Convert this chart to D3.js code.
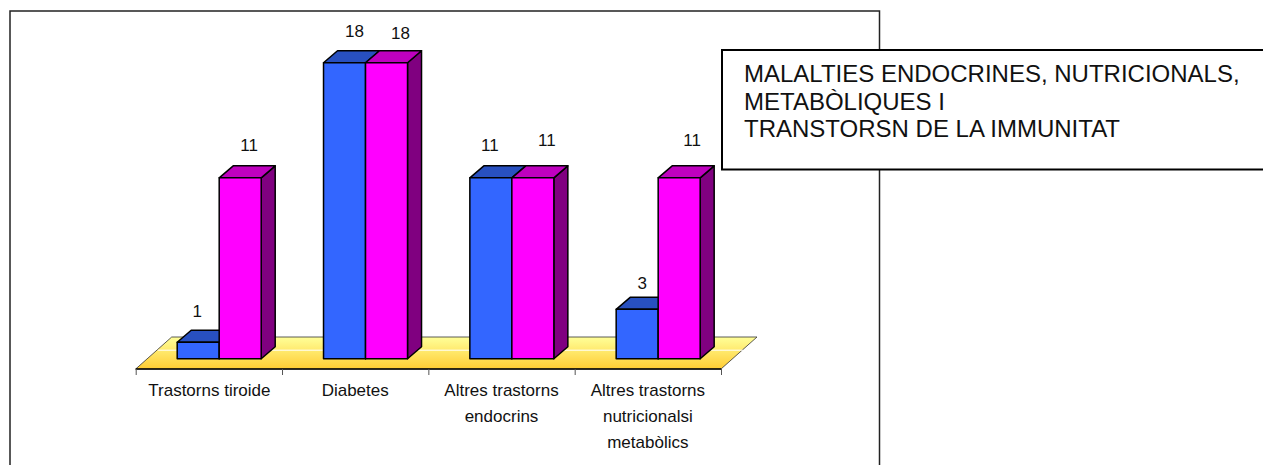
<!DOCTYPE html>
<html lang="ca">
<head>
<meta charset="UTF-8">
<title>Malalties endocrines</title>
<script src="https://cdn.jsdelivr.net/npm/d3@7"></script>
<style>
    html, body { margin: 0; padding: 0; background: #fff; overflow: hidden; }
    text { font-family: "Liberation Sans", Arial, sans-serif; fill: #111; }
</style>
</head>
<body>
<div id="chart"></div>
<script>
    const categories = ["Trastorns tiroide", "Diabetes", "Altres trastorns endocrins", "Altres trastorns nutricionalsi metabòlics"];
    const categoryLines = [["Trastorns tiroide"], ["Diabetes"], ["Altres trastorns", "endocrins"], ["Altres trastorns", "nutricionalsi", "metabòlics"]];
    const seriesNames = ["A", "B"];
    const seriesA = [1, 18, 11, 3];
    const seriesB = [11, 18, 11, 11];
    const titleLines = ["MALALTIES ENDOCRINES, NUTRICIONALS,", "METABÒLIQUES I", "TRANSTORSN DE LA IMMUNITAT"];

    const width = 1263, height = 465;
    const depth = {x: 14, y: -12};
    const floorDepth = {x: 36, y: -32};

    const svg = d3.select("#chart").append("svg")
        .attr("width", width)
        .attr("height", height)
        .style("display", "block");

    const defs = svg.append("defs");
    const grad = defs.append("linearGradient").attr("id", "floor").attr("x1", 0).attr("x2", 0).attr("y1", 0).attr("y2", 1);
    grad.append("stop").attr("offset", 0).attr("stop-color", "#ffff99");
    grad.append("stop").attr("offset", 1).attr("stop-color", "#ffcc33");

    // outer frame, runs off the bottom of the page
    svg.append("rect")
        .attr("x", 10).attr("y", 11)
        .attr("width", 869.5).attr("height", 480)
        .attr("fill", "#fff").attr("stroke", "#222").attr("stroke-width", 1.5);

    const x0 = d3.scaleBand().domain(categories).range([135.7, 721]);
    const x1 = d3.scaleBand().domain(seriesNames).range([41.5, 125.5]);
    const y = d3.scaleLinear().domain([0, 18]).range([358.7, 62.7]);
    const floorY = 369;

    // floor
    const floorPts = [
        [x0.range()[0], floorY],
        [x0.range()[1], floorY],
        [x0.range()[1] + floorDepth.x, floorY + floorDepth.y],
        [x0.range()[0] + floorDepth.x, floorY + floorDepth.y]
    ];
    svg.append("path")
        .attr("d", d3.line()(floorPts) + "Z")
        .attr("fill", "url(#floor)")
        .attr("stroke", "#333")
        .attr("stroke-width", 0.8);
    // zero gridline behind the bars
    svg.append("line")
        .attr("x1", x0.range()[0] + 22).attr("x2", x0.range()[1] + 22)
        .attr("y1", y(0) - 8.5).attr("y2", y(0) - 8.5)
        .attr("stroke", "#fff").attr("stroke-width", 1);
    svg.append("line")
        .attr("x1", x0.range()[0]).attr("x2", x0.range()[1])
        .attr("y1", floorY).attr("y2", floorY)
        .attr("stroke", "#000").attr("stroke-width", 1.5);

    // ticks and labels through d3 axis
    const ticks = [...categories.map(c => x0(c)), x0.range()[1]];
    const axis = d3.axisBottom(d3.scaleLinear().domain([0, width]).range([0, width]))
        .tickValues(ticks).tickSize(6).tickFormat("");
    svg.append("g")
        .attr("transform", `translate(0,${floorY})`)
        .call(axis)
        .call(g => g.select(".domain").remove())
        .call(g => g.selectAll("line").attr("stroke", "#555"));

    categories.forEach((c, i) => {
        const t = svg.append("text")
            .attr("text-anchor", "middle")
            .attr("font-size", 17)
            .attr("transform", `translate(${x0(c) + x0.bandwidth() / 2 + (i === 0 ? 0.5 : 0)},0)`);
        categoryLines[i].forEach((line, k) => {
            t.append("tspan").attr("x", 0).attr("y", 396 + k * 26).text(line);
        });
    });

    // 3d bars, blue then pink so the front faces overlap
    const styles = {
        A: {front: "#3366ff", top: "#2850c0", side: "#1f3f99"},
        B: {front: "#ff00ff", top: "#bf00bf", side: "#800080"}
    };
    const nudges = {A: [[-8, -17.5], [3, -18.5], [-8, -19], [-2, -12.5]], B: [[2, -19], [7, -16.5], [7, -24.5], [6, -24.5]]};

    const rows = categories.flatMap((c, i) => [
        {c, i, s: "A", v: seriesA[i]},
        {c, i, s: "B", v: seriesB[i]}
    ]);
    const barG = svg.append("g").attr("stroke", "#000").attr("stroke-width", 1.5).attr("stroke-linejoin", "round");
    const bars = barG.selectAll("g").data(rows).enter().append("g")
        .attr("transform", d => `translate(${x0(d.c) + x1(d.s)},0)`);
    const w = x1.bandwidth();
    bars.append("path")
        .attr("fill", d => styles[d.s].side)
        .attr("d", d => `M${w},${y(d.v)}l${depth.x},${depth.y}V${y(0) + depth.y}l${-depth.x},${-depth.y}Z`);
    bars.append("path")
        .attr("fill", d => styles[d.s].top)
        .attr("d", d => `M0,${y(d.v)}l${depth.x},${depth.y}h${w}l${-depth.x},${-depth.y}Z`);
    bars.append("rect")
        .attr("fill", d => styles[d.s].front)
        .attr("x", 0).attr("width", w)
        .attr("y", d => y(d.v))
        .attr("height", d => y(0) - y(d.v));

    // value labels
    svg.selectAll(".val").data(rows).enter().append("text")
        .attr("class", "val")
        .attr("text-anchor", "middle")
        .attr("dominant-baseline", "middle")
        .attr("font-size", 17)
        .attr("x", d => x0(d.c) + x1(d.s) + w / 2 + 7 + nudges[d.s][d.i][0])
        .attr("y", d => y(d.v) + depth.y + nudges[d.s][d.i][1])
        .text(d => d.v);

    // title box
    svg.append("rect")
        .attr("x", 722).attr("y", 50)
        .attr("width", 560).attr("height", 119.5)
        .attr("fill", "#fff").attr("stroke", "#000").attr("stroke-width", 2);
    svg.append("g").selectAll("text").data(titleLines).enter().append("text")
        .attr("x", 744)
        .attr("y", (d, i) => 82 + i * 27.5)
        .attr("font-size", 24)
        .text(d => d);
</script>
</body>
</html>
